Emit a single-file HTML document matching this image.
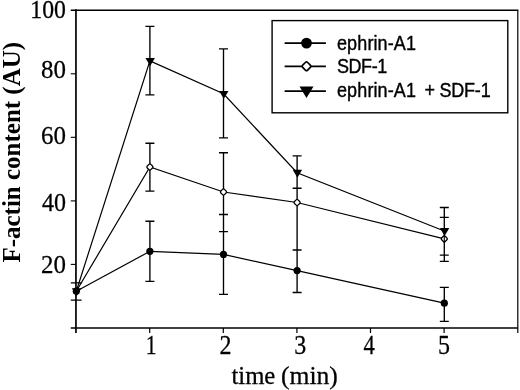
<!DOCTYPE html>
<html><head><meta charset="utf-8"><title>F-actin content</title>
<style>
html,body{margin:0;padding:0;background:#fff;}
svg{display:block;}
text{fill:#000;}
.ser{font-family:"Liberation Serif",serif;font-size:24px;stroke:#000;stroke-width:0.25px;}
.serb{font-family:"Liberation Serif",serif;font-size:24.5px;font-weight:bold;}
.san{font-family:"Liberation Sans",sans-serif;font-size:18px;stroke:#000;stroke-width:0.35px;}
</style></head><body>
<svg width="520" height="390" viewBox="0 0 520 390">
<rect width="520" height="390" fill="#fff"/>

<g stroke="#000" stroke-width="1.7" fill="none">
<line x1="75.95" y1="9.35" x2="75.95" y2="333.0" stroke-width="1.7"/>
<line x1="70.75" y1="10.2" x2="518.4" y2="10.2" stroke-width="1.55"/>
<line x1="517.8" y1="10.2" x2="517.8" y2="333.0" stroke-width="1.2"/>
<line x1="70.75" y1="328.0" x2="517.8" y2="328.0" stroke-width="1.4"/>
<line x1="70.75" y1="264.4" x2="75.95" y2="264.4" stroke-width="1.1"/>
<line x1="70.75" y1="200.9" x2="75.95" y2="200.9" stroke-width="1.1"/>
<line x1="70.75" y1="137.3" x2="75.95" y2="137.3" stroke-width="1.1"/>
<line x1="70.75" y1="73.8" x2="75.95" y2="73.8" stroke-width="1.1"/>
<line x1="149.7" y1="328.0" x2="149.7" y2="333.0" stroke-width="1.2"/>
<line x1="223.3" y1="328.0" x2="223.3" y2="333.0" stroke-width="1.2"/>
<line x1="296.9" y1="328.0" x2="296.9" y2="333.0" stroke-width="1.2"/>
<line x1="370.5" y1="328.0" x2="370.5" y2="333.0" stroke-width="1.2"/>
<line x1="444.1" y1="328.0" x2="444.1" y2="333.0" stroke-width="1.2"/>
</g>
<g stroke="#000" stroke-width="1.35" fill="none">
<polyline points="76.3,291.2 149.9,60.9 223.5,93.8 297.1,172.7 444.3,231.0" stroke-width="1.2"/>
<polyline points="76.3,291.2 149.9,167.0 223.5,192.0 297.1,202.5 444.3,238.9" stroke-width="1.2"/>
<polyline points="76.3,291.2 149.9,251.3 223.5,254.4 297.1,270.6 444.3,303.2" stroke-width="1.2"/>
<path d="M70.8 282.9h10.8M70.8 300.1h10.8"/>
<path d="M149.9 26.3V94.8M149.9 143.2V191.1M149.9 221.2V281.4M145.4 26.3h9.0M145.4 94.8h9.0M145.4 143.2h9.0M145.4 191.1h9.0M145.4 221.2h9.0M145.4 281.4h9.0"/>
<path d="M223.5 48.8V137.9M223.5 152.7V294.4M219.0 48.8h9.0M219.0 137.9h9.0M219.0 152.7h9.0M219.0 214.5h9.0M219.0 231.6h9.0M219.0 294.4h9.0"/>
<path d="M297.1 155.9V292.5M292.6 155.9h9.0M292.6 188.2h9.0M292.6 250.0h9.0M292.6 292.5h9.0"/>
<path d="M444.3 207.5V261.4M444.3 287.4V321.3M439.8 207.5h9.0M439.8 217.4h9.0M439.8 255.1h9.0M439.8 261.4h9.0M439.8 287.4h9.0M439.8 321.3h9.0"/>
</g>
<circle cx="76.3" cy="291.2" r="3.6" fill="#000"/>
<circle cx="149.9" cy="251.3" r="3.6" fill="#000"/>
<circle cx="223.5" cy="254.4" r="3.6" fill="#000"/>
<circle cx="297.1" cy="270.6" r="3.6" fill="#000"/>
<circle cx="444.3" cy="303.2" r="3.6" fill="#000"/>
<rect x="-2.5" y="-2.5" width="5" height="5" rx="1.3" transform="translate(149.9,167.0) rotate(45)" fill="#fff" stroke="#000" stroke-width="1.3"/>
<rect x="-2.5" y="-2.5" width="5" height="5" rx="1.3" transform="translate(223.5,192.0) rotate(45)" fill="#fff" stroke="#000" stroke-width="1.3"/>
<rect x="-2.5" y="-2.5" width="5" height="5" rx="1.3" transform="translate(297.1,202.5) rotate(45)" fill="#fff" stroke="#000" stroke-width="1.3"/>
<rect x="-2.5" y="-2.5" width="5" height="5" rx="1.3" transform="translate(444.3,238.9) rotate(45)" fill="#fff" stroke="#000" stroke-width="1.3"/>
<line x1="444.3" y1="234.9" x2="444.3" y2="242.9" stroke="#000" stroke-width="1.1"/>
<polygon points="71.9,288.3 81.3,288.3 76.6,296.2" fill="#000"/>
<polygon points="145.5,58.0 154.9,58.0 150.2,65.9" fill="#000"/>
<polygon points="219.1,90.9 228.5,90.9 223.8,98.8" fill="#000"/>
<polygon points="292.7,169.8 302.1,169.8 297.4,177.7" fill="#000"/>
<polygon points="439.9,228.1 449.3,228.1 444.6,236.0" fill="#000"/>
<rect x="272.1" y="20.6" width="235.7" height="92.2" fill="#fff" stroke="#000" stroke-width="1.4"/>
<line x1="284.6" y1="43.2" x2="325.9" y2="43.2" stroke="#000" stroke-width="1.8"/>
<line x1="284.6" y1="66.3" x2="325.9" y2="66.3" stroke="#000" stroke-width="1.8"/>
<line x1="284.6" y1="91.2" x2="325.9" y2="91.2" stroke="#000" stroke-width="1.8"/>
<circle cx="306.5" cy="43.1" r="5.4" fill="#000"/>
<rect x="-3.5" y="-3.5" width="7" height="7" rx="1.6" transform="translate(306.5,66.3) rotate(45)" fill="#fff" stroke="#000" stroke-width="1.7"/>
<polygon points="299.5,86.6 313.5,86.6 306.5,98" fill="#000"/>
<text class="san" transform="translate(337.0,50.0) scale(1,1.08)" textLength="79">ephrin-A1</text>
<text class="san" transform="translate(337.0,72.8) scale(1,1.08)" textLength="50.2">SDF-1</text>
<text class="san" transform="translate(337.0,96.8) scale(1,1.08)"><tspan x="0" textLength="79">ephrin-A1</tspan><tspan> </tspan><tspan x="87.4">+</tspan><tspan> </tspan><tspan x="102.4" textLength="51.3">SDF-1</tspan></text>
<text class="ser" transform="translate(66.0,272.8) scale(1.04,1.05)" text-anchor="end">20</text>
<text class="ser" transform="translate(66.0,211.0) scale(1.0,1.05)" text-anchor="end">40</text>
<text class="ser" transform="translate(66.0,144.3) scale(1.04,1.05)" text-anchor="end">60</text>
<text class="ser" transform="translate(66.0,77.7) scale(1.04,1.05)" text-anchor="end">80</text>
<text class="ser" transform="translate(66.0,18.1) scale(0.99,1.05)" text-anchor="end">100</text>
<text class="ser" transform="translate(151.2,353.6) scale(0.9,1.1)" text-anchor="middle">1</text>
<text class="ser" transform="translate(225.4,353.6) scale(1.0,1.1)" text-anchor="middle">2</text>
<text class="ser" transform="translate(300.3,353.6) scale(1.0,1.1)" text-anchor="middle">3</text>
<text class="ser" transform="translate(369.1,353.6) scale(0.94,1.1)" text-anchor="middle">4</text>
<text class="ser" transform="translate(443.9,353.6) scale(1.0,1.1)" text-anchor="middle">5</text>
<text class="ser" transform="translate(231.4,384.0) scale(1.03,1.09)">time </text>
<text class="ser" transform="translate(281.0,384.0) scale(1.068,1.06)">(min)</text>
<text class="serb" transform="translate(19.7,262.6) rotate(-90) scale(1.02,1.05)">F-actin content (AU)</text>
</svg></body></html>
